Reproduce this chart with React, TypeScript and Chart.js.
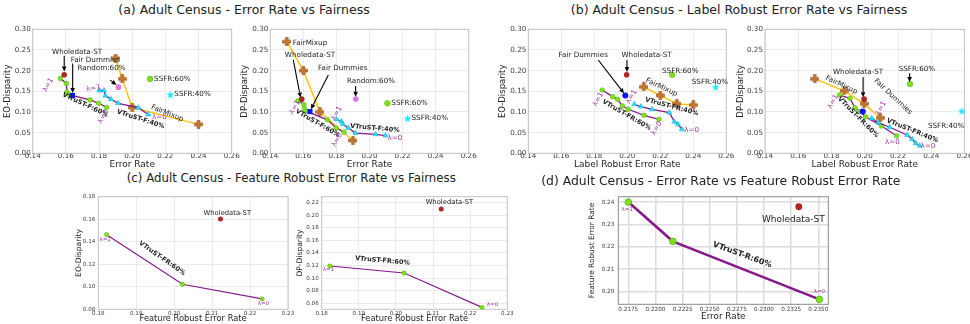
import React, { useEffect, useRef } from 'react';
import { Chart, registerables } from 'chart.js';

Chart.register(...registerables);

const FONT = '"DejaVu Sans", "Liberation Sans", sans-serif';

// ---------------- (a) Error Rate vs Fairness ----------------
const vtF60Err = [0.1567, 0.1603, 0.1607, 0.1617, 0.1746, 0.1798, 0.1846];
const vtF60EO = [0.181, 0.169, 0.148, 0.142, 0.129, 0.121, 0.111];
const vtF60DP = [0.127, 0.118, 0.108, 0.102, 0.081, 0.061, 0.051];
const vtF40Err = [0.1802, 0.183, 0.1838, 0.1872, 0.1915, 0.2037, 0.2097];
const vtF40EO = [0.152, 0.152, 0.1395, 0.131, 0.121, 0.1105, 0.094];
const vtF40DP = [0.082, 0.077, 0.071, 0.061, 0.049, 0.046, 0.043];
const mixupErrEO = [0.19, 0.194, 0.2, 0.24];
const mixupEO = [0.23, 0.18, 0.111, 0.07];
const mixupErrDP = [0.15, 0.16, 0.17, 0.19];
const mixupDP = [0.27, 0.2, 0.1, 0.031];
const wholeErr = [0.159];
const wholeEO = [0.19];
const wholeDP = [0.131];
const fairDumErr = [0.164];
const fairDumEO = [0.14];
const fairDumDP = [0.101];
const randErr = [0.1917];
const randEO = [0.16];
const randDP = [0.1315];
const ssfr60Err = [0.2108];
const ssfr60EO = [0.18];
const ssfr60DP = [0.121];
const ssfr40Err = [0.223];
const ssfr40EO = [0.142];
const ssfr40DP = [0.0847];

// ---------------- (b) Label Robust Error Rate vs Fairness ----------------
const vtFR60LRE = [0.1848, 0.1911, 0.1941, 0.197, 0.2006, 0.2101, 0.2192];
const vtFR60EO = [0.153, 0.137, 0.1306, 0.1145, 0.1065, 0.092, 0.0823];
const vtFR60DP = [0.141, 0.133, 0.11, 0.101, 0.088, 0.066, 0.042];
const vtFR40LRE = [0.2042, 0.2083, 0.215, 0.2255, 0.2285, 0.2307, 0.2331];
const vtFR40EO = [0.1185, 0.113, 0.1065, 0.0984, 0.0766, 0.0702, 0.058];
const vtFR40DP = [0.0847, 0.0742, 0.063, 0.0444, 0.034, 0.0242, 0.0185];
const mixupLreEO = [0.21, 0.22, 0.23, 0.24];
const mixupEOb = [0.1605, 0.14, 0.12, 0.117];
const mixupLreDP = [0.17, 0.1876, 0.1996, 0.2093];
const mixupDPb = [0.18, 0.151, 0.12, 0.0855];
const wholeLRE = [0.1996];
const fairDumLRE = [0.1988];
const ssfr60LRE = [0.2272];
const ssfr60EOb = [0.19];
const ssfr60DPb = [0.1677];
const ssfr40LreEO = [0.2535];
const ssfr40EOb = [0.1605];
const ssfr40LreDP = [0.2584];
const ssfr40DPb = [0.1024];

// ---------------- (c) Feature Robust Error Rate vs Fairness ----------------
const vtFR60FRE = [0.1822, 0.2022, 0.2232];
const vtFR60EOc = [0.1463, 0.1022, 0.0892];
const vtFR60DPc = [0.1193, 0.1082, 0.0536];
const wholeFRE = [0.2122];
const wholeEOc = [0.1602];
const wholeDPc = [0.21];

// ---------------- (d) Error Rate vs Feature Robust Error Rate ----------------
const vtR60Err = [0.2175, 0.2216, 0.2351];
const vtR60FRE = [0.24, 0.2224, 0.1964];
const wholeErrD = [0.2332];
const wholeFreD = [0.2379];

// ---------------- tick values ----------------
const ticksErr = [0.14, 0.16, 0.18, 0.2, 0.22, 0.24, 0.26];
const ticksDisp = [0, 0.05, 0.1, 0.15, 0.2, 0.25, 0.3];
const ticksFreC = [0.18, 0.19, 0.2, 0.21, 0.22, 0.23];
const ticksEOc = [0.08, 0.1, 0.12, 0.14, 0.16, 0.18];
const ticksDPc = [0.06, 0.08, 0.1, 0.12, 0.14, 0.16, 0.18, 0.2, 0.22];
const ticksErrD = [0.2175, 0.22, 0.2225, 0.225, 0.2275, 0.23, 0.2325, 0.235];
const ticksFreD = [0.2, 0.21, 0.22, 0.23, 0.24];

// ---------------- styles ----------------
const GREEN = '#7fe11d';
const GREEN_E = '#5cb512';
const CYAN = '#1fe3f7';
const CYAN_E = '#17a8d8';
const PURPLE = '#861a8a';
const GOLD = '#ffc20e';
const BROWN = '#c27733';
const RED = '#b02626';
const BLUE = '#0b16f2';
const PINK = '#de74de';
const LAMBDA = '#a236a2';
const TEXT = '#222';
const TICK = '#3c3c3c';

const pts = (xs: number[], ys: number[]) => xs.map((x, i) => ({ x, y: ys[i] }));

let starCache: HTMLCanvasElement | null = null;
let plusCache: HTMLCanvasElement | null = null;
function starImg() {
  if (starCache) return starCache;
  const s = 9;
  const c = document.createElement('canvas');
  c.width = s; c.height = s;
  const g = c.getContext('2d')!;
  const R = s / 2 - 0.3, r = R * 0.42;
  g.beginPath();
  for (let i = 0; i < 10; i++) {
    const a = -Math.PI / 2 + (i * Math.PI) / 5;
    const rr = i % 2 ? r : R;
    g.lineTo(s / 2 + rr * Math.cos(a), s / 2 + 0.4 + rr * Math.sin(a));
  }
  g.closePath();
  g.fillStyle = CYAN; g.fill();
  starCache = c;
  return c;
}
function plusImg() {
  if (plusCache) return plusCache;
  const s = 9;
  const c = document.createElement('canvas');
  c.width = s; c.height = s;
  const g = c.getContext('2d')!;
  const t = 3;
  const a = (s - t) / 2;
  g.beginPath();
  g.moveTo(a, 0.5); g.lineTo(a + t, 0.5); g.lineTo(a + t, a); g.lineTo(s - 0.5, a); g.lineTo(s - 0.5, a + t);
  g.lineTo(a + t, a + t); g.lineTo(a + t, s - 0.5); g.lineTo(a, s - 0.5); g.lineTo(a, a + t); g.lineTo(0.5, a + t);
  g.lineTo(0.5, a); g.lineTo(a, a); g.closePath();
  g.fillStyle = BROWN; g.fill();
  g.strokeStyle = '#9a5520'; g.lineWidth = 0.6; g.stroke();
  plusCache = c;
  return c;
}

function vtLine(xs: number[], ys: number[], shape: string, r: number, lw: number, border = 0.5) {
  const tri = shape === 'triangle';
  return {
    data: pts(xs, ys), showLine: true, borderColor: PURPLE, borderWidth: lw,
    pointStyle: shape, pointRadius: r,
    pointBackgroundColor: tri ? CYAN : GREEN, pointBorderColor: tri ? CYAN_E : GREEN_E,
    pointBorderWidth: border, clip: false,
  };
}
function mixLine(xs: number[], ys: number[]) {
  return {
    data: pts(xs, ys), showLine: true, borderColor: GOLD, borderWidth: 1.5,
    pointStyle: plusImg(), pointRadius: 4, clip: false,
  };
}
function single(xs: number[], ys: number[], style: any, r: number, color: string, edge?: string) {
  return {
    data: pts(xs, ys), showLine: false, pointStyle: style, pointRadius: r,
    pointBackgroundColor: color, pointBorderColor: edge || color, pointBorderWidth: edge ? 0.6 : 0, clip: false,
  };
}

type Ann = any;

function annotPlugin(spec: any) {
  return {
    id: 'annot',
    beforeDatasetsDraw(chart: any) {
      const { ctx, chartArea: a } = chart;
      ctx.save();
      ctx.strokeStyle = spec.frame;
      ctx.lineWidth = spec.frameW || 1;
      ctx.strokeRect(a.left, a.top, a.right - a.left, a.bottom - a.top);
      ctx.restore();
    },
    afterDatasetsDraw(chart: any) {
      const ctx = chart.ctx;
      const xs = chart.scales.x, ys = chart.scales.y;
      for (const it of spec.ann as Ann[]) {
        if (it.k === 'a') {
          const x1 = xs.getPixelForValue(it.x1), y1 = ys.getPixelForValue(it.y1);
          const x2 = xs.getPixelForValue(it.x2), y2 = ys.getPixelForValue(it.y2);
          const ang = Math.atan2(y2 - y1, x2 - x1);
          const hl = 5, hw = 2.3;
          ctx.save();
          ctx.strokeStyle = '#000'; ctx.fillStyle = '#000'; ctx.lineWidth = 1.1;
          ctx.beginPath();
          ctx.moveTo(x1, y1);
          ctx.lineTo(x2 - hl * Math.cos(ang), y2 - hl * Math.sin(ang));
          ctx.stroke();
          ctx.beginPath();
          ctx.moveTo(x2, y2);
          ctx.lineTo(x2 - hl * Math.cos(ang) + hw * Math.sin(ang), y2 - hl * Math.sin(ang) - hw * Math.cos(ang));
          ctx.lineTo(x2 - hl * Math.cos(ang) - hw * Math.sin(ang), y2 - hl * Math.sin(ang) + hw * Math.cos(ang));
          ctx.closePath();
          ctx.fill();
          ctx.restore();
        } else {
          const px = xs.getPixelForValue(it.x) + (it.dx || 0);
          const py = ys.getPixelForValue(it.y) + (it.dy || 0);
          ctx.save();
          ctx.translate(px, py);
          ctx.rotate(((it.rot || 0) * Math.PI) / 180);
          const size = it.size || spec.annSize;
          ctx.font = `${it.bold ? 'bold ' : ''}${size}px ${FONT}`;
          ctx.textAlign = it.align || 'center';
          ctx.textBaseline = 'middle';
          ctx.fillStyle = it.color || TEXT;
          ctx.fillText(it.s, 0, 0);
          ctx.restore();
        }
      }
    },
  };
}

function geom(spec: any) {
  const [L, R, T, B] = spec.box;
  const lhY = spec.yTitleSize * 1.2, lhX = spec.xTitleSize * 1.2;
  const left = Math.round(spec.yTitleX - lhY / 2);
  const top = Math.floor(T - 9);
  const bottom = Math.min(324, Math.round(spec.xTitleY + lhX / 2));
  const right = Math.min(970, Math.ceil(R + 14));
  return {
    left, top, w: right - left, h: bottom - top,
    yAxisW: L - left, xAxisH: bottom - B, padTop: T - top, padRight: right - R,
  };
}

function Panel({ spec }: { spec: any }) {
  const ref = useRef<HTMLCanvasElement>(null);
  const g = geom(spec);
  useEffect(() => {
    const f = (size: number) => ({ family: FONT, size, lineHeight: 1.2 });
    const chart = new Chart(ref.current!, {
      type: 'scatter',
      data: { datasets: spec.datasets() },
      options: {
        animation: false, responsive: false, maintainAspectRatio: false, devicePixelRatio: 1,
        events: [],
        layout: { padding: { left: 0, top: g.padTop, right: g.padRight, bottom: 0 } },
        plugins: { legend: { display: false }, tooltip: { enabled: false } },
        scales: {
          x: {
            type: 'linear', position: 'bottom', min: spec.x[0], max: spec.x[1],
            afterBuildTicks: (s: any) => { s.ticks = spec.xTicks.map((v: number) => ({ value: v })); },
            afterFit: (s: any) => { s.height = g.xAxisH; s.paddingLeft = 0; s.paddingRight = 0; },
            grid: { color: spec.grid, lineWidth: spec.gridW, drawTicks: false },
            border: { display: false },
            ticks: {
              autoSkip: false, maxRotation: 0, minRotation: 0, padding: spec.xPad, color: TICK,
              font: f(spec.tickSize), callback: (v: any) => Number(v).toFixed(spec.xDec),
            },
            title: { display: true, text: spec.xTitle, color: TEXT, font: f(spec.xTitleSize), padding: 0 },
          },
          y: {
            type: 'linear', position: 'left', min: spec.y[0], max: spec.y[1],
            afterBuildTicks: (s: any) => { s.ticks = spec.yTicks.map((v: number) => ({ value: v })); },
            afterFit: (s: any) => { s.width = g.yAxisW; s.paddingTop = 0; s.paddingBottom = 0; },
            grid: { color: spec.grid, lineWidth: spec.gridW, drawTicks: false },
            border: { display: false },
            ticks: {
              autoSkip: false, padding: spec.yPad, color: TICK,
              font: f(spec.tickSize), callback: (v: any) => Number(v).toFixed(spec.yDec),
            },
            title: { display: true, text: spec.yTitle, color: TEXT, font: f(spec.yTitleSize), padding: 0 },
          },
        },
      } as any,
      plugins: [annotPlugin(spec)],
    } as any);
    return () => chart.destroy();
  }, []);
  return (
    <canvas
      ref={ref}
      width={g.w}
      height={g.h}
      style={{ position: 'absolute', left: g.left, top: g.top, width: g.w, height: g.h }}
    />
  );
}

const topCommon = {
  xTitleY: 165, xTitleSize: 9, yTitleSize: 8.5, tickSize: 7.2, xPad: -1, yPad: 2,
  xDec: 2, yDec: 2, grid: '#e6e6e6', gridW: 0.8, frame: '#c2c2c2', annSize: 7.2,
  x: [0.14, 0.26], y: [0, 0.3], xTicks: ticksErr, yTicks: ticksDisp,
};
const botCommon = {
  xTitleY: 319.3, xTitleSize: 8.3, yTitleSize: 7.6, tickSize: 5.6, xPad: 1, yPad: 3,
  xDec: 2, yDec: 2, grid: '#e6e6e6', gridW: 0.8, frame: '#c2c2c2', annSize: 6.8,
};

const specA1 = {
  ...topCommon, box: [32.7, 231.7, 29.3, 153.3], yTitleX: 8.3,
  xTitle: 'Error Rate', yTitle: 'EO-Disparity',
  datasets: () => [
    single(wholeErr, wholeEO, 'circle', 2.8, RED),
    single(fairDumErr, fairDumEO, 'rect', 3.6, BLUE),
    single(randErr, randEO, 'circle', 2.8, PINK),
    single(ssfr60Err, ssfr60EO, 'circle', 2.8, GREEN, GREEN_E),
    single(ssfr40Err, ssfr40EO, starImg(), 4, CYAN),
    vtLine(vtF40Err, vtF40EO, 'triangle', 3, 1.3),
    vtLine(vtF60Err, vtF60EO, 'circle', 2.4, 1.3),
    mixLine(mixupErrEO, mixupEO),
  ],
  ann: [
    { k: 't', x: 0.1668, y: 0.2444, s: 'Wholedata-ST' },
    { k: 'a', x1: 0.159, y1: 0.236, x2: 0.159, y2: 0.198 },
    { k: 't', x: 0.1778, y: 0.2257, s: 'Fair Dummies' },
    { k: 'a', x1: 0.1641, y1: 0.217, x2: 0.1641, y2: 0.146 },
    { k: 't', x: 0.1815, y: 0.2057, s: 'Random:60%' },
    { k: 'a', x1: 0.1867, y1: 0.1771, x2: 0.1905, y2: 0.1655 },
    { k: 't', x: ssfr60Err[0], y: ssfr60EO[0], dx: 4, align: 'left', s: 'SSFR:60%' },
    { k: 't', x: ssfr40Err[0], y: ssfr40EO[0], dx: 4, align: 'left', s: 'SSFR:40%' },
    { k: 't', x: 0.1494, y: 0.1653, s: 'λ=1', rot: -60, color: LAMBDA },
    { k: 't', x: 0.1826, y: 0.0887, s: 'λ=0', rot: -60, color: LAMBDA },
    { k: 't', x: 0.1766, y: 0.157, s: 'λ=1', rot: -8, color: LAMBDA },
    { k: 't', x: 0.2164, y: 0.0871, s: 'λ=0', color: LAMBDA },
    { k: 't', x: 0.1716, y: 0.117, s: 'VTruST-F:60%', bold: true, size: 6.5, rot: 25 },
    { k: 't', x: 0.2051, y: 0.0823, s: 'VTruST-F:40%', bold: true, size: 6.5, rot: 18 },
    { k: 't', x: 0.2212, y: 0.0968, s: 'FairMixup', rot: 22 },
  ],
};

const specA2 = {
  ...topCommon, box: [270.3, 468.7, 29.3, 153.3], yTitleX: 245,
  xTitle: 'Error Rate', yTitle: 'DP-Disparity',
  datasets: () => [
    single(wholeErr, wholeDP, 'circle', 2.8, RED),
    single(fairDumErr, fairDumDP, 'rect', 3.6, BLUE),
    single(randErr, randDP, 'circle', 2.8, PINK),
    single(ssfr60Err, ssfr60DP, 'circle', 2.8, GREEN, GREEN_E),
    single(ssfr40Err, ssfr40DP, starImg(), 4, CYAN),
    vtLine(vtF40Err, vtF40DP, 'triangle', 3, 1.3),
    vtLine(vtF60Err, vtF60DP, 'circle', 2.4, 1.3),
    mixLine(mixupErrDP, mixupDP),
  ],
  ann: [
    { k: 't', x: mixupErrDP[0], y: mixupDP[0], dx: 6, dy: 1, align: 'left', s: 'FairMixup' },
    { k: 't', x: 0.164, y: 0.2363, s: 'Wholedata-ST' },
    { k: 'a', x1: 0.1539, y1: 0.2258, x2: 0.1583, y2: 0.1347 },
    { k: 't', x: 0.1838, y: 0.2056, s: 'Fair Dummies' },
    { k: 'a', x1: 0.1751, y1: 0.1895, x2: 0.1646, y2: 0.1065 },
    { k: 't', x: 0.2009, y: 0.1758, s: 'Random:60%' },
    { k: 'a', x1: 0.1916, y1: 0.1629, x2: 0.1916, y2: 0.1371 },
    { k: 't', x: ssfr60Err[0], y: ssfr60DP[0], dx: 4, align: 'left', s: 'SSFR:60%' },
    { k: 't', x: ssfr40Err[0], y: ssfr40DP[0], dx: 4, align: 'left', s: 'SSFR:40%' },
    { k: 't', x: 0.1549, y: 0.1113, s: 'λ=1', rot: -60, color: LAMBDA },
    { k: 't', x: 0.1805, y: 0.0323, s: 'λ=0', rot: -60, color: LAMBDA },
    { k: 't', x: 0.1801, y: 0.0968, s: 'λ=1', rot: -60, color: LAMBDA },
    { k: 't', x: 0.2154, y: 0.0379, s: 'λ=0', color: LAMBDA },
    { k: 't', x: 0.1686, y: 0.0726, s: 'VTruST-F:60%', bold: true, size: 6.5, rot: 30 },
    { k: 't', x: 0.2033, y: 0.0605, s: 'VTruST-F:40%', bold: true, size: 6.5, rot: 5 },
  ],
};

const specB1 = {
  ...topCommon, box: [528.3, 726.3, 29.3, 153.3], yTitleX: 502.7,
  xTitle: 'Label Robust Error Rate', yTitle: 'EO-Disparity',
  datasets: () => [
    single(wholeLRE, wholeEO, 'circle', 2.8, RED),
    single(fairDumLRE, fairDumEO, 'circle', 3, BLUE),
    single(ssfr60LRE, ssfr60EOb, 'circle', 2.8, GREEN, GREEN_E),
    single(ssfr40LreEO, ssfr40EOb, starImg(), 4, CYAN),
    vtLine(vtFR40LRE, vtFR40EO, 'triangle', 3, 1.3),
    vtLine(vtFR60LRE, vtFR60EO, 'circle', 2.4, 1.3),
    mixLine(mixupLreEO, mixupEOb),
  ],
  ann: [
    { k: 't', x: 0.1733, y: 0.2363, s: 'Fair Dummies' },
    { k: 'a', x1: 0.1824, y1: 0.2258, x2: 0.198, y2: 0.1452 },
    { k: 't', x: 0.2117, y: 0.2363, s: 'Wholedata-ST' },
    { k: 'a', x1: 0.1998, y1: 0.2258, x2: 0.1998, y2: 0.1968 },
    { k: 't', x: 0.2321, y: 0.2, s: 'SSFR:60%' },
    { k: 't', x: 0.2501, y: 0.1726, s: 'SSFR:40%' },
    { k: 't', x: 0.2208, y: 0.1597, s: 'FairMixup', rot: 25 },
    { k: 't', x: 0.2269, y: 0.1129, s: 'VTruST-FR:40%', bold: true, size: 6.5, rot: 15 },
    { k: 't', x: 0.1996, y: 0.0927, s: 'VTruST-FR:60%', bold: true, size: 6.5, rot: 30 },
    { k: 't', x: 0.1824, y: 0.1306, s: 'λ=1', rot: -60, color: LAMBDA },
    { k: 't', x: 0.2026, y: 0.137, s: 'λ=1', rot: -60, color: LAMBDA },
    { k: 't', x: 0.2178, y: 0.0605, s: 'λ=0', rot: -60, color: LAMBDA },
    { k: 't', x: 0.239, y: 0.0565, s: 'λ=0', color: LAMBDA },
  ],
};

const specB2 = {
  ...topCommon, box: [765, 965, 29.3, 153.3], yTitleX: 740.7,
  xTitle: 'Label Robust Error Rate', yTitle: 'DP-Disparity',
  datasets: () => [
    single(wholeLRE, wholeDP, 'circle', 2.8, RED),
    single(fairDumLRE, fairDumDP, 'circle', 3, BLUE),
    single(ssfr60LRE, ssfr60DPb, 'circle', 2.8, GREEN, GREEN_E),
    single(ssfr40LreDP, ssfr40DPb, starImg(), 4, CYAN),
    vtLine(vtFR40LRE, vtFR40DP, 'triangle', 3, 1.3),
    vtLine(vtFR60LRE, vtFR60DP, 'circle', 2.4, 1.3),
    mixLine(mixupLreDP, mixupDPb),
  ],
  ann: [
    { k: 't', x: 0.196, y: 0.196, s: 'Wholedata-ST' },
    { k: 'a', x1: 0.199, y1: 0.1839, x2: 0.199, y2: 0.1355 },
    { k: 't', x: 0.2314, y: 0.204, s: 'SSFR:60%' },
    { k: 'a', x1: 0.227, y1: 0.1935, x2: 0.227, y2: 0.1726 },
    { k: 't', x: 0.217, y: 0.137, s: 'Fair Dummies', rot: 43 },
    { k: 't', x: 0.186, y: 0.1653, s: 'FairMixup', rot: 25 },
    { k: 't', x: 0.249, y: 0.0661, s: 'SSFR:40%' },
    { k: 't', x: 0.196, y: 0.0871, s: 'VTruST-FR:60%', bold: true, size: 6.5, rot: 45 },
    { k: 't', x: 0.2286, y: 0.0548, s: 'VTruST-FR:40%', bold: true, size: 6.5, rot: 22 },
    { k: 't', x: 0.181, y: 0.125, s: 'λ=1', rot: -60, color: LAMBDA },
    { k: 't', x: 0.2098, y: 0.1089, s: 'λ=1', rot: -60, color: LAMBDA },
    { k: 't', x: 0.2166, y: 0.0282, s: 'λ=0', color: LAMBDA },
    { k: 't', x: 0.238, y: 0.0177, s: 'λ=0', color: LAMBDA },
  ],
};

const specC1 = {
  ...botCommon, box: [98.3, 288, 196.7, 309.3], yTitleX: 78.3,
  xTitle: 'Feature Robust Error Rate', yTitle: 'EO-Disparity',
  x: [0.18, 0.23], y: [0.08, 0.18], xTicks: ticksFreC, yTicks: ticksEOc,
  datasets: () => [
    single(wholeFRE, wholeEOc, 'circle', 2.5, RED),
    vtLine(vtFR60FRE, vtFR60EOc, 'circle', 2.2, 1.2),
  ],
  ann: [
    { k: 't', x: 0.214, y: 0.1652, s: 'Wholedata-ST' },
    { k: 't', x: 0.1818, y: 0.1415, s: 'λ=1', size: 5.5, color: LAMBDA },
    { k: 't', x: 0.2235, y: 0.0853, s: 'λ=0', size: 5.5, color: LAMBDA },
    { k: 't', x: 0.1968, y: 0.1253, s: 'VTruST-FR:60%', bold: true, size: 6.5, rot: 35 },
  ],
};

const specC2 = {
  ...botCommon, box: [321.7, 507.3, 196.7, 309.3], yTitleX: 300,
  xTitle: 'Feature Robust Error Rate', yTitle: 'DP-Disparity',
  x: [0.18, 0.23], y: [0.0505, 0.2295], xTicks: ticksFreC, yTicks: ticksDPc,
  datasets: () => [
    single(wholeFRE, wholeDPc, 'circle', 2.5, RED),
    vtLine(vtFR60FRE, vtFR60DPc, 'circle', 2.2, 1.2),
  ],
  ann: [
    { k: 't', x: 0.2144, y: 0.22, s: 'Wholedata-ST' },
    { k: 't', x: 0.1964, y: 0.1278, s: 'VTruST-FR:60%', bold: true, size: 6.5, rot: 5 },
    { k: 't', x: 0.1818, y: 0.113, s: 'λ=1', size: 5.5, color: LAMBDA },
    { k: 't', x: 0.226, y: 0.0574, s: 'λ=0', size: 5.5, color: LAMBDA },
  ],
};

const specD = {
  ...botCommon, box: [618.3, 828.3, 196.7, 304.3], yTitleX: 592.3, xTitleY: 316.7,
  xTitleSize: 8.8, yTitleSize: 7.4, tickSize: 5.7, xPad: 2.3, yPad: 4, yDec: 2, xDec: 4,
  grid: '#dcdcdc', gridW: 1.5, frame: '#8a8a8a',
  xTitle: 'Error Rate', yTitle: 'Feature Robust Error Rate',
  x: [0.21658, 0.23592], y: [0.1942, 0.2424], xTicks: ticksErrD, yTicks: ticksFreD,
  datasets: () => [
    single(wholeErrD, wholeFreD, 'circle', 3.4, RED),
    vtLine(vtR60Err, vtR60FRE, 'circle', 3.3, 2.6, 0.8),
  ],
  ann: [
    { k: 't', x: 0.2327, y: 0.2319, s: 'Wholedata-ST', size: 9 },
    { k: 't', x: 0.228, y: 0.2163, s: 'VTruST-R:60%', bold: true, size: 8, rot: 20 },
    { k: 't', x: 0.2174, y: 0.2367, s: 'λ=1', size: 5.5, color: LAMBDA },
    { k: 't', x: 0.2351, y: 0.1999, s: 'λ=0', size: 5.5, color: LAMBDA },
  ],
};

const titles = [
  { s: '(a) Adult Census - Error Rate vs Fairness', x: 244, y: 10, size: 12.5 },
  { s: '(b) Adult Census - Label Robust Error Rate vs Fairness', x: 739, y: 10, size: 12.5 },
  { s: '(c) Adult Census - Feature Robust Error Rate vs Fairness', x: 291.3, y: 178.3, size: 11.8 },
  { s: '(d) Adult Census - Error Rate vs Feature Robust Error Rate', x: 720.8, y: 180.7, size: 12.4 },
];

export default function App() {
  const specs = [specA1, specA2, specB1, specB2, specC1, specC2, specD];
  return (
    <div style={{ position: 'fixed', left: 0, top: 0, width: 970, height: 324, background: '#fff', overflow: 'hidden' }}>
      {specs.map((s, i) => <Panel key={i} spec={s} />)}
      {titles.map((t, i) => (
        <div
          key={'t' + i}
          style={{
            position: 'absolute', left: t.x, top: t.y - 8, transform: 'translateX(-50%)',
            whiteSpace: 'nowrap', fontFamily: FONT, fontSize: t.size, lineHeight: '16px', color: TEXT,
          }}
        >
          {t.s}
        </div>
      ))}
    </div>
  );
}
